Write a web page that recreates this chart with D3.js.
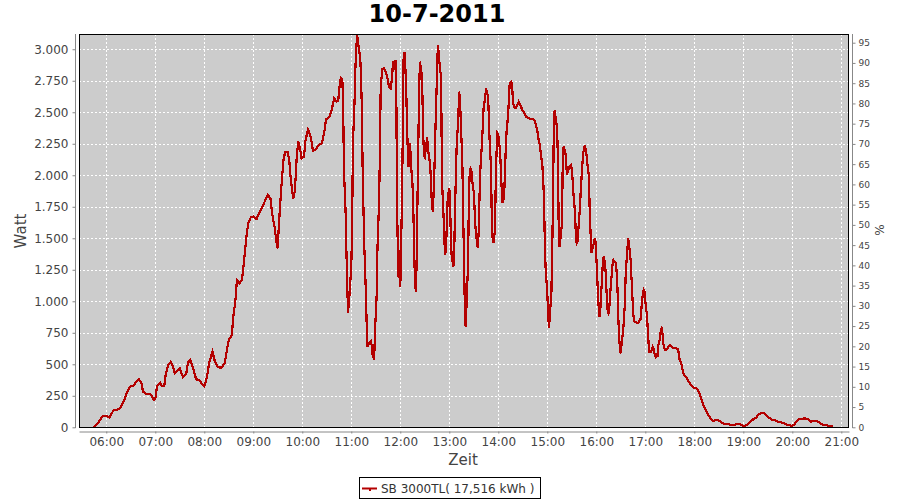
<!DOCTYPE html>
<html><head><meta charset="utf-8">
<script src="https://cdn.jsdelivr.net/npm/d3@7"></script>
<style>
body{margin:0;background:#fff}
svg{display:block}
text{font-family:"DejaVu Sans",sans-serif}
</style>
</head><body>
<svg id="c" width="900" height="500"></svg>
<script>
const chartTitle = "10-7-2011";
const seriesName = "SB 3000TL( 17,516 kWh )";
const xLabel = "Zeit", yLabel = "Watt", y2Label = "%";
const hourTicks = ["06:00","07:00","08:00","09:00","10:00","11:00","12:00","13:00","14:00","15:00","16:00","17:00","18:00","19:00","20:00","21:00"];
const wattTicks = [0,250,500,750,1000,1250,1500,1750,2000,2250,2500,2750,3000];
const pctTicks = [0,5,10,15,20,25,30,35,40,45,50,55,60,65,70,75,80,85,90,95];

const times = [
"05:44","05:48","05:56","06:00","06:04","06:09","06:16","06:19","06:23","06:25","06:29","06:33","06:37","06:40","06:43","06:45","06:50","06:53","06:56","06:58",
"07:00","07:02","07:06","07:08","07:11","07:13","07:16","07:19","07:21","07:24","07:28","07:30","07:34","07:38","07:40","07:43","07:47","07:50","07:54","07:57",
"08:00","08:03","08:06","08:10","08:13","08:17","08:21","08:25","08:27","08:30","08:34","08:35","08:38","08:40","08:43","08:46","08:48","08:50","08:52","08:54","08:57",
"09:00","09:04","09:07","09:10","09:14","09:18","09:21","09:23","09:26","09:29","09:30","09:31","09:33","09:35","09:37","09:39","09:42","09:44","09:46","09:48","09:49","09:51","09:53","09:55","09:56","09:57","09:59",
"10:02","10:04","10:07","10:09","10:11","10:13","10:16","10:20","10:24","10:27","10:29","10:33","10:36","10:39","10:42","10:44","10:46","10:47","10:49","10:50","10:51","10:53","10:54","10:55","10:56","10:58",
"11:00","11:01","11:02","11:04","11:05","11:07","11:09","11:11","11:12","11:13","11:14","11:15","11:16","11:18","11:19","11:20","11:22","11:24","11:25","11:26","11:28","11:29","11:31","11:32","11:34","11:35","11:36","11:38","11:40","11:42","11:45","11:46","11:48","11:50","11:51","11:53","11:54","11:55","11:56","11:57","11:58","11:59",
"12:00","12:02","12:03","12:04","12:05","12:07","12:08","12:09","12:10","12:11","12:12","12:13","12:15","12:16","12:17","12:18","12:19","12:20","12:21","12:22","12:23","12:24","12:26","12:27","12:28","12:29","12:30","12:31","12:33","12:34","12:35","12:37","12:38","12:39","12:40","12:42","12:43","12:45","12:46","12:47","12:49","12:50","12:51","12:53","12:54","12:55","12:56","12:58","12:59",
"13:00","13:01","13:02","13:03","13:05","13:06","13:07","13:08","13:09","13:11","13:12","13:13","13:14","13:16","13:17","13:18","13:19","13:20","13:21","13:23","13:24","13:25","13:26","13:27","13:29","13:30","13:31","13:32","13:34","13:35","13:36","13:37","13:38","13:40","13:41","13:42","13:44","13:45","13:47","13:48","13:49","13:51","13:52","13:53","13:54","13:56","13:57","13:58","13:59",
"14:00","14:02","14:03","14:04","14:05","14:07","14:08","14:09","14:10","14:12","14:13","14:14","14:16","14:17","14:18","14:20","14:21","14:23","14:25","14:26","14:28","14:29","14:31","14:34","14:37","14:41","14:44","14:46","14:48","14:49","14:51","14:52","14:54","14:55","14:56","14:57","14:58",
"15:00","15:01","15:02","15:03","15:05","15:06","15:07","15:08","15:09","15:10","15:12","15:13","15:14","15:15","15:16","15:18","15:19","15:20","15:22","15:23","15:24","15:25","15:27","15:29","15:30","15:31","15:32","15:34","15:35","15:36","15:37","15:38","15:40","15:41","15:42","15:43","15:44","15:46","15:47","15:48","15:49","15:51","15:52","15:53","15:54","15:55","15:57","15:58","15:59",
"16:00","16:02","16:03","16:04","16:05","16:06","16:08","16:09","16:10","16:11","16:13","16:14","16:15","16:16","16:17","16:19","16:20","16:21","16:22","16:24","16:25","16:26","16:27","16:28","16:29","16:30","16:31","16:33","16:35","16:36","16:38","16:39","16:40","16:42","16:43","16:44","16:45","16:46","16:49","16:51","16:54","16:55","16:56","16:58","16:59",
"17:00","17:02","17:03","17:04","17:05","17:07","17:08","17:09","17:10","17:11","17:13","17:14","17:15","17:16","17:18","17:19","17:20","17:21","17:22","17:24","17:25","17:27","17:29","17:30","17:32","17:34","17:37","17:40","17:41","17:42","17:44","17:45","17:47","17:50","17:53","17:56","17:59",
"18:02","18:05","18:07","18:09","18:11","18:14","18:17","18:20","18:23","18:27","18:31","18:34","18:38","18:42","18:46","18:49","18:52","18:55","18:58",
"19:01","19:03","19:06","19:09","19:12","19:16","19:18","19:21","19:25","19:28","19:31","19:34","19:37","19:40","19:43","19:46","19:49","19:52","19:55","19:58",
"20:00","20:03","20:05","20:08","20:11","20:14","20:18","20:20","20:23","20:26","20:29","20:32","20:35","20:38","20:41","20:44","20:47","20:50"
];
const watts = [
0,18,92,92,79,137,143,177,230,270,322,328,362,381,349,283,262,264,248,217,
222,322,354,328,328,428,494,521,494,428,455,468,397,428,513,534,455,381,375,344,
328,389,513,600,521,476,473,508,587,693,733,852,997,1169,1143,1169,1275,1407,1540,1619,1667,
1672,1653,1698,1738,1791,1844,1817,1698,1592,1440,1420,1566,1778,1963,2121,2185,2185,2121,1963,1857,1817,1883,2121,2270,2230,2227,2135,
2148,2280,2360,2333,2280,2195,2201,2240,2254,2346,2445,2460,2518,2611,2585,2592,2730,2770,2757,2585,2042,1711,1407,1143,905,1064,
1288,1566,2254,2585,2849,3119,3020,2929,2757,2518,1989,1698,1421,1037,772,640,667,680,653,574,534,759,1037,1407,1791,2148,2700,2841,2849,2823,2757,2698,2685,2770,2902,2836,2915,2770,1778,1407,1183,1407,
1116,1778,2307,2915,2981,2757,2465,2227,2069,2122,2254,2095,1923,1711,1407,1143,1077,1302,1791,2214,2651,2902,2810,2664,2333,2161,2148,2201,2300,2175,2175,2029,1857,1751,1711,2095,2360,2810,3034,2968,2823,2783,1963,1672,1473,1368,1421,1804,1857,
1897,1778,1460,1354,1275,1381,1725,1976,2227,2452,2664,2624,2439,2095,1672,1354,957,798,957,1302,1831,2016,2056,2042,1897,1870,1725,1592,1460,1421,1552,1831,2042,2254,2386,2532,2624,2690,2637,2545,2333,2069,1672,1500,1460,1566,2016,2201,2333,
2320,2201,2069,1910,1778,1818,1989,2188,2333,2479,2611,2730,2743,2704,2571,2532,2532,2558,2585,2571,2545,2518,2505,2465,2452,2447,2439,2399,2346,2294,2240,2175,2069,1963,1804,1447,1249,
1064,905,786,878,1064,1407,1791,2413,2518,2465,2373,2122,1566,1433,1487,1619,2161,2227,2188,2122,2003,2029,2069,2082,2042,1963,1857,1698,1513,1460,1473,1566,1751,1884,1989,2095,2175,2240,2201,2161,2095,1989,1685,1540,1381,1407,1460,1500,1473,
1354,1064,944,878,944,1064,1302,1354,1328,1280,1020,918,905,957,1064,1222,1302,1328,1315,1302,1222,1090,860,719,614,587,667,772,984,1222,1407,1500,1460,1328,1195,1064,931,846,830,830,852,918,1010,1090,1077,
997,891,772,667,600,600,614,640,627,587,548,587,560,653,706,772,786,746,667,614,614,627,645,653,640,627,627,619,587,534,508,476,423,397,362,336,317,
310,290,256,217,177,137,98,71,52,58,52,32,26,24,16,18,29,26,16,
10,13,26,44,63,79,98,111,111,98,79,63,58,52,44,40,32,26,18,13,
10,26,44,63,66,71,68,58,44,52,52,42,26,18,18,13,10,5
];

const toMin = s => { const p = s.split(":"); return +p[0]*60 + +p[1]; };
const data = times.map((t,i) => ({t: toMin(t), w: watts[i]}));

const L = 79, R = 849, T = 34, B = 427.3;
const svg = d3.select("#c");

const x = d3.scaleLinear().domain([326.6, 1269.4]).range([L, R]);
const yL = d3.scaleLinear().domain([0, 3121]).range([B, T]);
const yR = d3.scaleLinear().domain([0, 97.15]).range([B, T]);

const de = d3.formatLocale({decimal:",", thousands:".", grouping:[3], currency:["","€"]});
const fmtW = de.format(",d");

// plot background
svg.append("rect").attr("x", L).attr("y", T).attr("width", R-L).attr("height", 428-T).attr("fill", "#cccccc");

// gridlines
const grid = svg.append("g").attr("stroke", "#ffffff").attr("stroke-dasharray", "2,2").attr("stroke-width", 1);
grid.selectAll("line.v").data(hourTicks).join("line")
  .attr("x1", d => Math.round(x(toMin(d))) + 0.5).attr("x2", d => Math.round(x(toMin(d))) + 0.5)
  .attr("y1", T).attr("y2", 428);
grid.selectAll("line.h").data(wattTicks).join("line")
  .attr("y1", d => Math.round(yL(d)) + 0.5).attr("y2", d => Math.round(yL(d)) + 0.5)
  .attr("x1", L).attr("x2", R);

// clip
svg.append("clipPath").attr("id", "clip").append("rect").attr("x", L).attr("y", T).attr("width", R-L).attr("height", 428-T);

const line = d3.line().x(d => x(d.t)).y(d => yL(d.w));
svg.append("path").datum(data).attr("clip-path", "url(#clip)")
  .attr("d", line).attr("fill", "none").attr("stroke", "#b40000").attr("stroke-width", 2.2)
  .attr("stroke-linejoin", "miter").attr("shape-rendering", "crispEdges");

// plot outline
svg.append("rect").attr("x", L+0.5).attr("y", T+0.5).attr("width", R-L-1).attr("height", 428-T-1)
  .attr("fill", "none").attr("stroke", "#000").attr("stroke-width", 1);

function styleAxis(g, size) {
  g.selectAll("path.domain").attr("stroke", "#888");
  g.selectAll(".tick line").attr("stroke", "#888");
  g.selectAll(".tick text").attr("fill", "#444").style("font-size", size + "px").style("font-family", "DejaVu Sans");
}

// bottom axis
const gx = svg.append("g").attr("transform", "translate(0,431.5)")
  .call(d3.axisBottom(x).tickValues(hourTicks.map(toMin)).tickFormat((d,i) => hourTicks[i]).tickSize(2).tickSizeOuter(0).tickPadding(4));
styleAxis(gx, 12);

// left axis
const gy = svg.append("g").attr("transform", "translate(75.5,0)")
  .call(d3.axisLeft(yL).tickValues(wattTicks).tickFormat(fmtW).tickSize(3).tickSizeOuter(0).tickPadding(4));
styleAxis(gy, 12);
gy.select("path.domain").attr("d", `M0,${T}V428`);

// right axis
const gy2 = svg.append("g").attr("transform", "translate(852.5,0)")
  .call(d3.axisRight(yR).tickValues(pctTicks).tickSize(3).tickSizeOuter(0).tickPadding(3));
styleAxis(gy2, 9);
gy2.select("path.domain").attr("d", `M0,${T}V428`);

// title & labels
svg.append("text").attr("x", 437).attr("y", 22).attr("text-anchor", "middle")
  .style("font-size", "24px").style("font-weight", "bold").attr("fill", "#000").text(chartTitle);
svg.append("text").attr("x", 463).attr("y", 465).attr("text-anchor", "middle")
  .style("font-size", "15px").attr("fill", "#444").text(xLabel);
svg.append("text").attr("transform", "translate(26,231) rotate(-90)").attr("text-anchor", "middle")
  .style("font-size", "15px").attr("fill", "#444").text(yLabel);
svg.append("text").attr("transform", "translate(884,230) rotate(-90)").attr("text-anchor", "middle")
  .style("font-size", "12px").attr("fill", "#444").text(y2Label);

// legend
const lg = svg.append("g");
lg.append("rect").attr("x", 359.5).attr("y", 477.5).attr("width", 181).attr("height", 21)
  .attr("fill", "#fff").attr("stroke", "#000");
lg.append("line").attr("x1", 362).attr("x2", 377).attr("y1", 488.5).attr("y2", 488.5)
  .attr("stroke", "#b40000").attr("stroke-width", 2);
lg.append("rect").attr("x", 369).attr("y", 488).attr("width", 2).attr("height", 3).attr("fill", "#b40000");
lg.append("text").attr("x", 381).attr("y", 493).style("font-size", "12px").attr("fill", "#333").text(seriesName);
</script>
</body></html>
